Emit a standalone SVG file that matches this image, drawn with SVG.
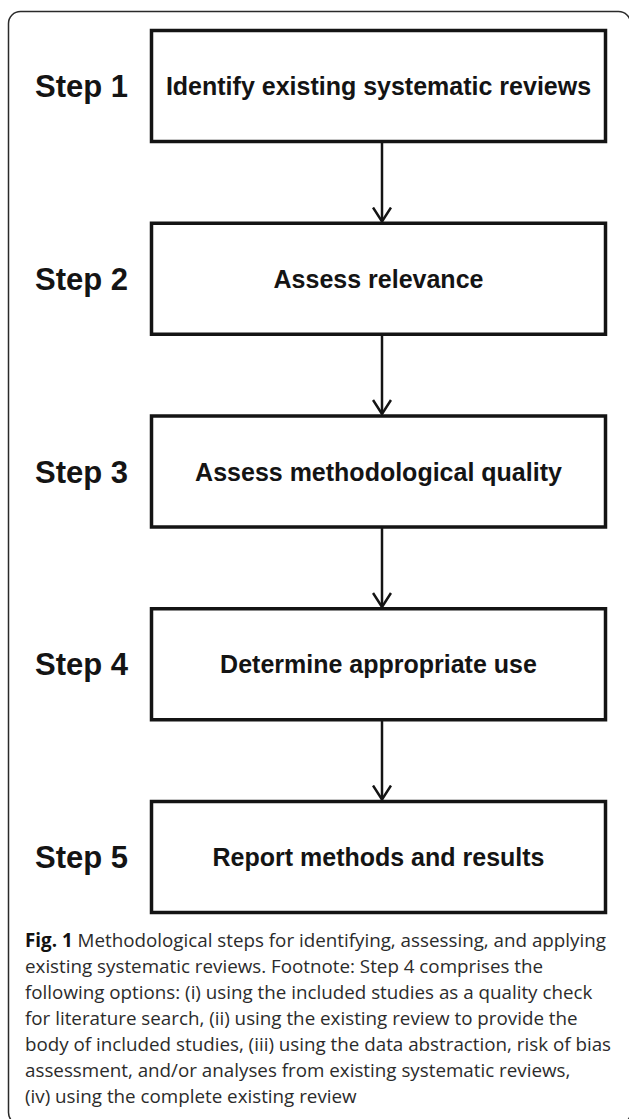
<svg xmlns="http://www.w3.org/2000/svg" width="629" height="1119" viewBox="0 0 629 1119">
<style>
.frame{fill:#fff;stroke:#2a2a2a;stroke-width:1.5}
.box{fill:#fff;stroke:#141414;stroke-width:3.5}
.step{font-family:"Liberation Sans",Arial,Helvetica,sans-serif;font-weight:bold;font-size:31px;fill:#141414}
.lbl{font-family:"Liberation Sans",Arial,Helvetica,sans-serif;font-weight:bold;font-size:25px;fill:#141414;text-anchor:middle}
.conn{stroke:#141414;stroke-width:2.5;fill:none}
.cap{font-family:"Open Sans","Noto Sans","Liberation Sans",sans-serif;font-size:18.8px;fill:#2b2b2b}
.capb{font-weight:bold;fill:#111}
</style>
<defs>
<marker id="arr" viewBox="0 0 16 20" refX="15" refY="10" markerWidth="16" markerHeight="20" markerUnits="userSpaceOnUse" orient="auto">
<path d="M1,1 L15,10 L1,19" fill="none" stroke="#141414" stroke-width="2.5"/>
</marker>
</defs>
<rect class="frame" x="8.5" y="11.5" width="622" height="1113" rx="12" ry="12"/>
<g id="connectors">
<line class="conn" x1="382" y1="142" x2="382" y2="221.5" marker-end="url(#arr)"/>
<line class="conn" x1="382" y1="334.5" x2="382" y2="414" marker-end="url(#arr)"/>
<line class="conn" x1="382" y1="527" x2="382" y2="607" marker-end="url(#arr)"/>
<line class="conn" x1="382" y1="720" x2="382" y2="799.5" marker-end="url(#arr)"/>
</g>
<g id="step1">
<rect class="box" x="151.5" y="30.5" width="454" height="111"/>
<text class="step" x="35" y="97">Step 1</text>
<text class="lbl" x="378.5" y="95">Identify existing systematic reviews</text>
</g>
<g id="step2">
<rect class="box" x="151.5" y="223.25" width="454" height="111"/>
<text class="step" x="35" y="290">Step 2</text>
<text class="lbl" x="378.5" y="288">Assess relevance</text>
</g>
<g id="step3">
<rect class="box" x="151.5" y="416" width="454" height="111"/>
<text class="step" x="35" y="482.5">Step 3</text>
<text class="lbl" x="378.5" y="480.5">Assess methodological quality</text>
</g>
<g id="step4">
<rect class="box" x="151.5" y="608.75" width="454" height="111"/>
<text class="step" x="35" y="675">Step 4</text>
<text class="lbl" x="378.5" y="673">Determine appropriate use</text>
</g>
<g id="step5">
<rect class="box" x="151.5" y="801.5" width="454" height="111"/>
<text class="step" x="35" y="868">Step 5</text>
<text class="lbl" x="378.5" y="866">Report methods and results</text>
</g>
<g id="caption">
<text class="cap" x="25" y="947"><tspan class="capb">Fig. 1</tspan> Methodological steps for identifying, assessing, and applying</text>
<text class="cap" x="25" y="973">existing systematic reviews. Footnote: Step 4 comprises the</text>
<text class="cap" x="25" y="999">following options: (i) using the included studies as a quality check</text>
<text class="cap" x="25" y="1025">for literature search, (ii) using the existing review to provide the</text>
<text class="cap" x="25" y="1051">body of included studies, (iii) using the data abstraction, risk of bias</text>
<text class="cap" x="25" y="1077">assessment, and/or analyses from existing systematic reviews,</text>
<text class="cap" x="25" y="1103">(iv) using the complete existing review</text>
</g>
</svg>
